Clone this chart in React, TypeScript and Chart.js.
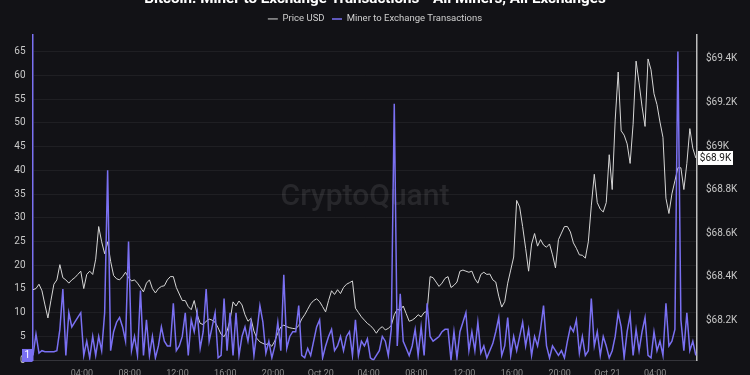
import { useEffect, useRef } from "react";
import { Chart, registerables } from "chart.js";

Chart.register(...registerables);

const TITLE = "Bitcoin: Miner to Exchange Transactions - All Miners, All Exchanges";
const PRICE_LABEL = "Price USD";
const MINER_LABEL = "Miner to Exchange Transactions";

// hours since Oct 19 00:00, 15-minute samples
const START_HOUR = -0.1;
const STEP_HOURS = 0.25;
const X_MIN = -0.1;
const X_MAX = 55.5;

const xTickHours = [4, 8, 12, 16, 20, 24, 28, 32, 36, 40, 44, 48, 52];
const xTickLabels = ["04:00", "08:00", "12:00", "16:00", "20:00", "Oct 20", "04:00", "08:00", "12:00", "16:00", "20:00", "Oct 21", "04:00"];

const leftTicks = [0, 5, 10, 15, 20, 25, 30, 35, 40, 45, 50, 55, 60, 65];
const LEFT_MIN = 0;
const LEFT_MAX = 68.5;

const rightTicks = [68200, 68400, 68600, 68800, 69000, 69200, 69400];
const RIGHT_MIN = 68016;
const RIGHT_MAX = 69510;

const minerTx = [
  1, 5.5, 1.5, 2, 1.8, 1.8, 1.8, 1.8, 2, 6.5,
  15, 1, 10, 7, 8, 9, 10, 1, 4, 0.5,
  5, 1, 5, 2, 10, 40, 2, 6, 8, 9,
  7, 4, 25, 2, 5, 1, 14.7, 1, 8.5, 1,
  5, 0.5, 3, 7, 4, 3, 3, 12, 2, 3,
  5, 10, 1, 8.5, 6, 10, 2.5, 6, 15, 4,
  7, 10, 0.5, 1, 13, 2, 10, 1, 10, 1,
  5, 7, 4, 8, 1, 6, 11.5, 8, 1.5, 4,
  0.5, 3, 8, 2, 18, 2.5, 5, 6, 6, 11.5,
  1, 0.5, 2.5, 1, 4, 7, 8.5, 0.5, 3, 5,
  6.5, 2, 3, 5, 2, 5, 6, 1, 8.5, 1,
  4, 3, 4.5, 0.5, 0, 1, 2, 5, 4, 1,
  6.5, 54, 3, 14, 4, 2.5, 1, 3, 6.5, 1,
  7, 1, 12, 5, 4, 4.5, 5, 6, 6.5, 6.5,
  0, 6, 0.5, 6, 8, 10, 2, 6, 2, 8,
  1.5, 3, 0.5, 2, 3.5, 6, 9, 1, 3, 9,
  1, 5, 2, 5, 8, 3, 6.5, 1, 5, 3,
  6.5, 11.5, 3, 0.5, 3, 2, 1, 2, 0.5, 4,
  7, 6, 8.5, 1.5, 5, 1, 2, 13, 3, 6,
  1, 5, 3, 0.5, 2, 5, 10, 7, 0.5, 6,
  9.5, 1, 6.5, 2, 6, 9, 1, 0.5, 6, 2,
  4, 1, 12, 3, 4, 6.5, 65, 8.5, 2, 10,
  2, 4, 1,
];

const priceUsd = [
  68340, 68345, 68365, 68335, 68270, 68210, 68290, 68365, 68385, 68455,
  68395, 68385, 68370, 68385, 68395, 68410, 68425, 68345, 68410, 68425,
  68410, 68480, 68630, 68560, 68505, 68560, 68470, 68405, 68390, 68385,
  68400, 68420, 68395, 68380, 68385, 68370, 68350, 68330, 68370, 68385,
  68345, 68325, 68345, 68355, 68358, 68385, 68400, 68400, 68350, 68320,
  68290, 68290, 68262, 68248, 68290, 68225, 68185, 68180, 68195, 68205,
  68200, 68190, 68165, 68135, 68124, 68150, 68200, 68284, 68265, 68288,
  68270, 68225, 68195, 68208, 68150, 68116, 68100, 68093, 68088, 68093,
  68080, 68105, 68140, 68169, 68177, 68170, 68165, 68162, 68160, 68175,
  68205, 68225, 68250, 68275, 68290, 68298, 68285, 68262, 68238, 68290,
  68335, 68318, 68340, 68322, 68350, 68365, 68372, 68380, 68255, 68235,
  68215, 68200, 68185, 68175, 68160, 68140, 68160, 68170, 68155, 68162,
  68175, 68225, 68250, 68245, 68265, 68230, 68195, 68200, 68210, 68225,
  68215, 68235, 68240, 68400, 68395, 68375, 68355, 68370, 68392, 68400,
  68350, 68360, 68375, 68425, 68430, 68425, 68420, 68425, 68390, 68370,
  68410, 68420, 68410, 68412, 68385, 68375, 68310, 68260, 68285, 68370,
  68430, 68490, 68750, 68720, 68630, 68530, 68425, 68550, 68598, 68540,
  68570, 68545, 68535, 68550, 68500, 68440, 68570, 68600, 68630, 68630,
  68605, 68555, 68530, 68500, 68498, 68485, 68560, 68725, 68870, 68740,
  68710, 68697, 68740, 68960, 68800, 69120, 69340, 69070, 69050, 69010,
  68920, 69100, 69390, 69290, 69180, 69090, 69400, 69350, 69240, 69190,
  69110, 69040, 68760, 68690, 68780, 68840, 68900, 68900, 68800, 68920,
  69080, 68990, 68945,
];

const BG = "#121216";
const MINER_COLOR = "#7a70f2";
const PRICE_COLOR = "#d6d6d6";
const FONT = "Roboto";

const fmtK = (v: number) => "$" + parseFloat((v / 1000).toFixed(1)) + "K";

const watermarkPlugin = {
  id: "watermark",
  beforeDatasetsDraw(chart: any) {
    const { ctx, chartArea } = chart;
    ctx.save();
    ctx.font = `500 30px ${FONT}`;
    ctx.fillStyle = "rgba(255,255,255,0.09)";
    ctx.textAlign = "center";
    ctx.textBaseline = "middle";
    ctx.fillText("CryptoQuant", (chartArea.left + chartArea.right) / 2, (chartArea.top + chartArea.bottom) / 2);
    ctx.restore();
  },
};

const tagsPlugin = {
  id: "valueTags",
  afterDraw(chart: any) {
    const { ctx, chartArea, scales } = chart;
    ctx.save();
    // miner last value tag on left axis
    const mv = minerTx[minerTx.length - 1];
    const my = scales.y.getPixelForValue(mv);
    ctx.fillStyle = MINER_COLOR;
    ctx.fillRect(chartArea.left - 11, my - 6.5, 10.5, 13);
    ctx.fillStyle = "#ffffff";
    ctx.font = `10px ${FONT}`;
    ctx.textAlign = "center";
    ctx.textBaseline = "middle";
    ctx.fillText(String(mv), chartArea.left - 5.75, my + 0.5);
    // price last value tag on right axis
    const pv = priceUsd[priceUsd.length - 1];
    const py = scales.y1.getPixelForValue(pv);
    ctx.fillStyle = "#ffffff";
    ctx.fillRect(chartArea.right + 1, py - 7, 35, 14);
    ctx.fillStyle = "#141414";
    ctx.font = `10px ${FONT}`;
    ctx.fillText("$" + (pv / 1000).toFixed(1) + "K", chartArea.right + 18.5, py + 0.5);
    ctx.restore();
  },
};

export default function App() {
  const ref = useRef<HTMLCanvasElement | null>(null);

  useEffect(() => {
    if (!ref.current) return;
    const toXY = (arr: number[]) => arr.map((v, i) => ({ x: START_HOUR + i * STEP_HOURS, y: v }));
    const chart = new Chart(ref.current, {
      type: "line",
      data: {
        datasets: [
          {
            label: PRICE_LABEL,
            data: toXY(priceUsd),
            yAxisID: "y1",
            borderColor: PRICE_COLOR,
            backgroundColor: PRICE_COLOR,
            borderWidth: 1,
            pointRadius: 0,
            tension: 0,
            order: 1,
          },
          {
            label: MINER_LABEL,
            data: toXY(minerTx),
            yAxisID: "y",
            borderColor: MINER_COLOR,
            backgroundColor: MINER_COLOR,
            borderWidth: 1.5,
            pointRadius: 0,
            tension: 0,
            order: 0,
          },
        ],
      },
      options: {
        responsive: false,
        animation: false,
        devicePixelRatio: 1,
        layout: { padding: { left: 0, right: 0, top: 0, bottom: 3 } },
        plugins: {
          title: {
            display: true,
            text: TITLE,
            color: "#ffffff",
            font: { family: FONT, size: 15.2, weight: "bold", lineHeight: 1 },
            padding: { top: 11.5, bottom: 0 },
          },
          subtitle: {
            display: true,
            text: " ",
            position: "top",
            weight: 500,
            font: { size: 1, lineHeight: 1 },
            padding: { top: 0.3, bottom: 0 },
          },
          legend: {
            display: true,
            position: "top",
            labels: {
              color: "#cfcfcf",
              font: { family: FONT, size: 9.5 },
              usePointStyle: true,
              pointStyle: "line",
              pointStyleWidth: 10,
              padding: 7.5,
              sort: (a: any, b: any) => a.datasetIndex - b.datasetIndex,
            },
          },
          tooltip: { enabled: false },
        },
        scales: {
          x: {
            type: "linear",
            min: X_MIN,
            max: X_MAX,
            grid: { display: false, drawTicks: false },
            border: { display: true, color: "#34343a" },
            afterBuildTicks: (axis: any) => {
              axis.ticks = xTickHours.map((value) => ({ value }));
            },
            ticks: {
              autoSkip: false,
              maxRotation: 0,
              padding: 8,
              color: "#8c8c8c",
              font: { family: FONT, size: 9 },
              callback: (value: any) => xTickLabels[xTickHours.indexOf(Number(value))] ?? "",
            },
          },
          y: {
            type: "linear",
            position: "left",
            min: LEFT_MIN,
            max: LEFT_MAX,
            afterBuildTicks: (axis: any) => {
              axis.ticks = leftTicks.map((value) => ({ value }));
            },
            afterFit: (axis: any) => {
              axis.width = 33;
            },
            grid: { color: "rgba(255,255,255,0.06)", drawTicks: false },
            border: { display: true, color: MINER_COLOR, width: 1.5 },
            ticks: {
              padding: 7.5,
              color: "#c8c8c8",
              font: { family: FONT, size: 10 },
              callback: (value: any) => String(value),
            },
          },
          y1: {
            type: "linear",
            position: "right",
            min: RIGHT_MIN,
            max: RIGHT_MAX,
            afterBuildTicks: (axis: any) => {
              axis.ticks = rightTicks.map((value) => ({ value }));
            },
            afterFit: (axis: any) => {
              axis.width = 53;
            },
            grid: { display: false, drawTicks: false },
            border: { display: true, color: "#bdbdbd", width: 1.5 },
            ticks: {
              padding: 9,
              color: "#c8c8c8",
              font: { family: FONT, size: 10 },
              callback: (value: any) => fmtK(Number(value)),
            },
          },
        },
      } as any,
      plugins: [watermarkPlugin, tagsPlugin],
    });
    return () => chart.destroy();
  }, []);

  return (
    <div
      style={{
        position: "fixed",
        left: 0,
        top: 0,
        width: 750,
        height: 375,
        overflow: "hidden",
        background: BG,
      }}
    >
      <canvas
        ref={ref}
        width={750}
        height={410}
        style={{ position: "absolute", left: 0, top: -20, width: 750, height: 410 }}
      />
    </div>
  );
}
